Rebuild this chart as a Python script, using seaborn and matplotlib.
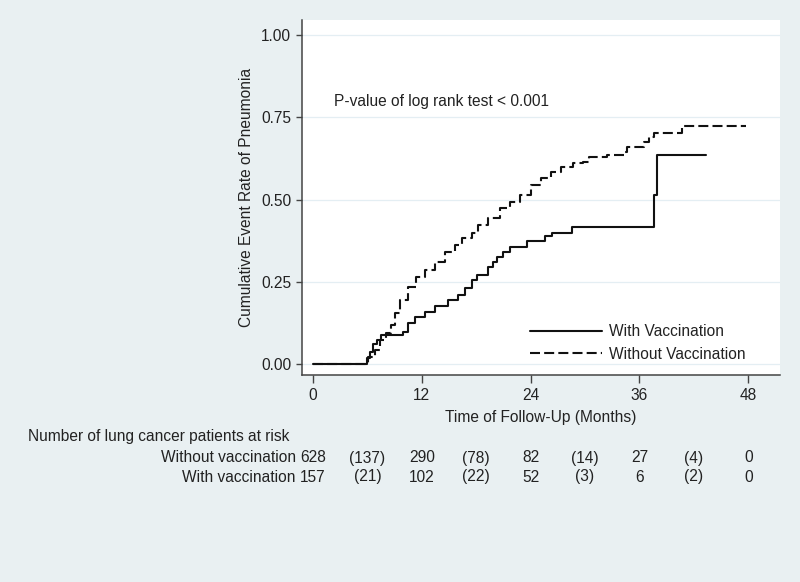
import pandas as pd
import matplotlib.pyplot as plt
import matplotlib.transforms as mtransforms
from matplotlib.lines import Line2D
import seaborn as sns

# ==========================
# Datos
# ==========================
tiempo_sin = [0, 6.1, 6.8, 7.4, 8.1, 8.6, 9.05, 9.6, 10.5, 11.4, 12.4, 13.5, 14.6,
              15.7, 16.4, 17.5, 18.2, 19.35, 20.6, 21.7, 22.8, 24.0, 25.1, 26.2,
              27.3, 28.7, 29.8, 30.4, 32.4, 34.3, 34.6, 36.5, 37.0, 37.6, 40.7, 47.7]
tasa_sin = [0, 0.02, 0.042, 0.073, 0.093, 0.12, 0.154, 0.195, 0.235, 0.265, 0.286,
            0.311, 0.341, 0.362, 0.382, 0.397, 0.422, 0.443, 0.473, 0.493, 0.514,
            0.544, 0.564, 0.585, 0.598, 0.610, 0.615, 0.630, 0.635, 0.645, 0.659,
            0.676, 0.691, 0.701, 0.723, 0.723]

tiempo_con = [0, 6.0, 6.3, 6.6, 7.1, 7.5, 9.9, 10.5, 11.3, 12.4, 13.5, 14.9, 16.0,
              16.8, 17.5, 18.1, 19.35, 19.8, 20.3, 21.0, 21.7, 23.6, 25.6, 26.3,
              28.6, 37.6, 37.9, 43.3]
tasa_con = [0, 0.017, 0.037, 0.06, 0.073, 0.088, 0.098, 0.124, 0.144, 0.159, 0.176,
            0.195, 0.21, 0.23, 0.255, 0.27, 0.296, 0.31, 0.326, 0.341, 0.357, 0.375,
            0.389, 0.399, 0.415, 0.514, 0.635, 0.635]

meses_riesgo = [0, 6, 12, 18, 24, 30, 36, 42, 48]
riesgo_sin = ['628', '(137)', '290', '(78)', '82', '(14)', '27', '(4)', '0']
riesgo_con = ['157', '(21)', '102', '(22)', '52', '(3)', '6', '(2)', '0']

df_sin = pd.DataFrame({'tiempo': tiempo_sin, 'tasa': tasa_sin})
df_con = pd.DataFrame({'tiempo': tiempo_con, 'tasa': tasa_con})

# ==========================
# Estilo
# ==========================
sns.set_style('ticks')
plt.rcParams['font.family'] = ['Liberation Sans', 'DejaVu Sans']
fondo = '#e9f0f2'
texto = '#222222'
guiones = (0, (4.8, 2.0))
fs = 11.2

fig = plt.figure(figsize=(8, 5.82), dpi=100, facecolor=fondo)
ax = fig.add_axes([301.7 / 800, 1 - 375 / 582, (780 - 301.7) / 800, (375 - 20) / 582])
ax.set_facecolor('white')

# Curvas (escalones)
sns.lineplot(data=df_con, x='tiempo', y='tasa', ax=ax, color='#111111',
             linewidth=1.5, estimator=None, sort=False, drawstyle='steps-post')
sns.lineplot(data=df_sin, x='tiempo', y='tasa', ax=ax, color='#111111',
             linewidth=1.5, estimator=None, sort=False, drawstyle='steps-post',
             linestyle=guiones)

ax.set_xlim(-1.25, 51.5)
ax.set_ylim(-0.0334, 1.0456)
ax.set_xticks([0, 12, 24, 36, 48])
ax.set_yticks([0, 0.25, 0.5, 0.75, 1.0])
ax.set_yticklabels(['0.00', '0.25', '0.50', '0.75', '1.00'])
ax.yaxis.grid(True, color='#e4eef3', linewidth=0.9)
ax.set_axisbelow(True)

for lado in ['top', 'right']:
    ax.spines[lado].set_visible(False)
for lado in ['left', 'bottom']:
    ax.spines[lado].set_color('#444444')
    ax.spines[lado].set_linewidth(1.1)

ax.tick_params(axis='x', length=5.5, width=1, color='#444444', pad=4,
               labelsize=fs, labelcolor=texto)
ax.tick_params(axis='y', length=4, width=1, color='#444444', pad=3.5,
               labelsize=fs, labelcolor=texto)

ax.set_xlabel('Time of Follow-Up (Months)', fontsize=fs, color=texto, labelpad=5)
ax.set_ylabel('Cumulative Event Rate of Pneumonia', fontsize=fs, color=texto, labelpad=5)

ax.text(2.3, 0.797, 'P-value of log rank test < 0.001', fontsize=fs,
        color=texto, va='center', ha='left')

# Leyenda
handles = [
    Line2D([], [], color='#111111', linewidth=1.5),
    Line2D([], [], color='#111111', linewidth=1.5, linestyle=guiones),
]
ax.legend(handles, ['With Vaccination', 'Without Vaccination'], frameon=False,
          loc='center left', bbox_to_anchor=(530 / 800, 1 - 343 / 582),
          bbox_transform=fig.transFigure, borderpad=0, borderaxespad=0,
          handlelength=4.6, handletextpad=0.45, labelspacing=0.5,
          fontsize=fs, labelcolor=texto)

# ==========================
# Tabla de pacientes en riesgo
# ==========================
trans = mtransforms.blended_transform_factory(ax.transData, fig.transFigure)
fila_sin = 1 - 462.5 / 582
fila_con = 1 - 481.5 / 582
fig.text(28 / 800, 1 - 441.5 / 582, 'Number of lung cancer patients at risk',
         fontsize=fs, color=texto, va='baseline', ha='left')
fig.text(296 / 800, fila_sin, 'Without vaccination', fontsize=fs,
         color=texto, va='baseline', ha='right')
fig.text(296 / 800, fila_con, 'With vaccination', fontsize=fs,
         color=texto, va='baseline', ha='right')
for mes, v1, v2 in zip(meses_riesgo, riesgo_sin, riesgo_con):
    ax.text(mes, fila_sin, v1, transform=trans, fontsize=fs, color=texto,
            ha='center', va='baseline', clip_on=False)
    ax.text(mes, fila_con, v2, transform=trans, fontsize=fs, color=texto,
            ha='center', va='baseline', clip_on=False)

fig.savefig('out.png', dpi=100, facecolor=fondo)
